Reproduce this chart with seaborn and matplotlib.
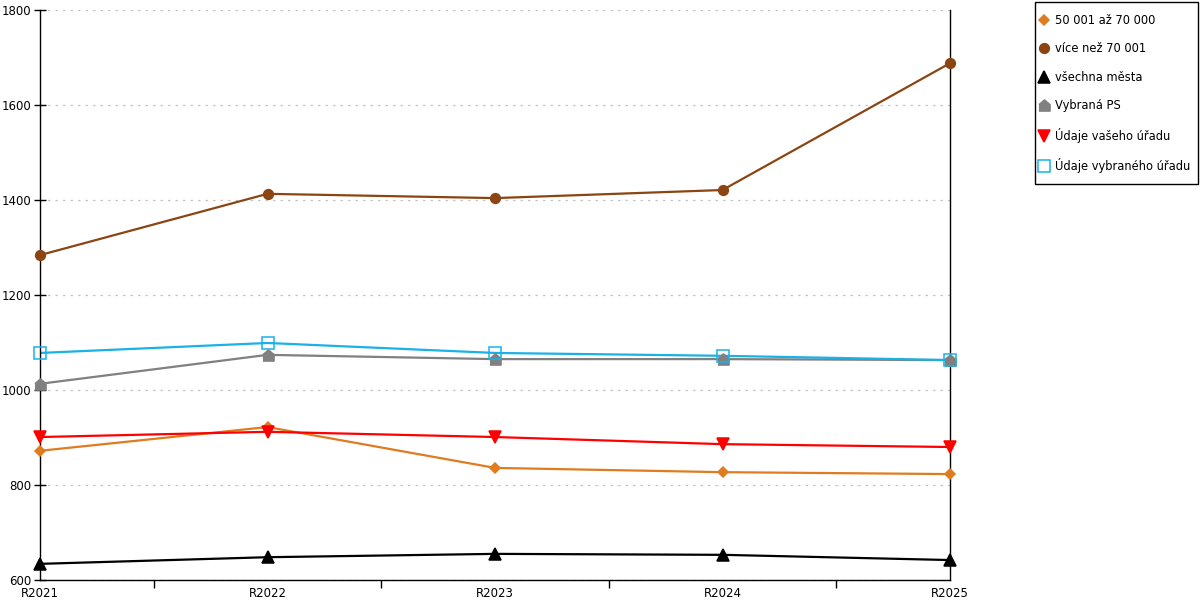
import matplotlib
matplotlib.use("Agg")
import matplotlib.pyplot as plt
from matplotlib.patches import Rectangle
from matplotlib.ticker import FixedLocator
import seaborn as sns
import pandas as pd

years = ["R2021", "R2022", "R2023", "R2024", "R2025"]

series_names = [
    "50 001 až 70 000",
    "více než 70 001",
    "všechna města",
    "Vybraná PS",
    "Údaje vašeho úřadu",
    "Údaje vybraného úřadu",
]

mid_cities = [872, 922, 836, 827, 823]
big_cities = [1284, 1413, 1404, 1421, 1688]
all_cities = [634, 648, 655, 653, 642]
selected_ps = [1013, 1074, 1065, 1065, 1063]
your_office = [901, 912, 901, 886, 880]
selected_office = [1078, 1099, 1078, 1072, 1063]

colors = ["#e07b20", "#8b4513", "#000000", "#808080", "#ff0000", "#1ab0e8"]
house = [(-1, -1), (1, -1), (1, 0.15), (0, 1), (-1, 0.15)]
markers = ["D", "o", "^", house, "v", "s"]
sizes = [5, 7, 8, 8, 8, 8]

rows = []
for name, vals in zip(series_names, [mid_cities, big_cities, all_cities,
                                     selected_ps, your_office, selected_office]):
    for i, v in enumerate(vals):
        rows.append({"pos": i, "rok": years[i], "serie": name, "hodnota": v})
df = pd.DataFrame(rows)

sns.set_style("white")
plt.rcParams["font.family"] = ["DejaVu Sans"]
plt.rcParams["text.color"] = "black"
plt.rcParams["xtick.color"] = "black"
plt.rcParams["ytick.color"] = "black"

fig = plt.figure(figsize=(12, 6), dpi=100)
ax = fig.add_axes([40 / 1200, 20 / 600, 910 / 1200, 570 / 600])

handles = []
for name, col, mk, ms in zip(series_names, colors, markers, sizes):
    sub = df[df["serie"] == name]
    sns.lineplot(data=sub, x="pos", y="hodnota", ax=ax, color=col, lw=1.6,
                 legend=False)
    face = "none" if mk == "s" else col
    ax.plot(sub["pos"], sub["hodnota"], ls="none", marker=mk, ms=ms,
            mfc=face, mec=col, mew=1.1, clip_on=False, zorder=5)
    h, = ax.plot([], [], ls="none", marker=mk, ms=ms, mfc=face, mec=col,
                 mew=1.1, label=name)
    handles.append(h)

ax.set_xlim(0, 4)
ax.set_ylim(600, 1800)
ax.set_xticks(range(5))
ax.set_xticklabels(years, fontsize=8.5)
ax.xaxis.set_minor_locator(FixedLocator([0.5, 1.5, 2.5, 3.5]))
ax.tick_params(axis="x", which="major", length=0, pad=5, bottom=True)
ax.tick_params(axis="x", which="minor", length=6, width=1, direction="out",
               bottom=True)
ax.set_yticks(range(600, 1801, 200))
ax.tick_params(axis="y", which="major", length=9, width=1, direction="inout",
               labelsize=8.5, left=True, pad=2)
ax.set_xlabel("")
ax.set_ylabel("")

ax.grid(axis="y", color="#c4c4c4", ls=(0, (2, 4)), lw=0.9)
ax.grid(axis="x", visible=False)

for side in ["left", "bottom", "right"]:
    ax.spines[side].set_visible(True)
    ax.spines[side].set_color("black")
    ax.spines[side].set_linewidth(1)
ax.spines["top"].set_visible(False)

# legend without its own frame; box drawn separately so padding matches
fig.legend(handles=handles, loc="upper left",
           bbox_to_anchor=(1035 / 1200, 1 - 9 / 600),
           frameon=False, fontsize=8.3,
           labelspacing=1.35, handlelength=0.8, handletextpad=0.55,
           borderpad=0.4, borderaxespad=0)
fig.patches.append(Rectangle((1035 / 1200, 1 - 184 / 600), 163 / 1200,
                             182 / 600, transform=fig.transFigure,
                             fill=False, ec="black", lw=1))

fig.savefig("out.png", dpi=100)
